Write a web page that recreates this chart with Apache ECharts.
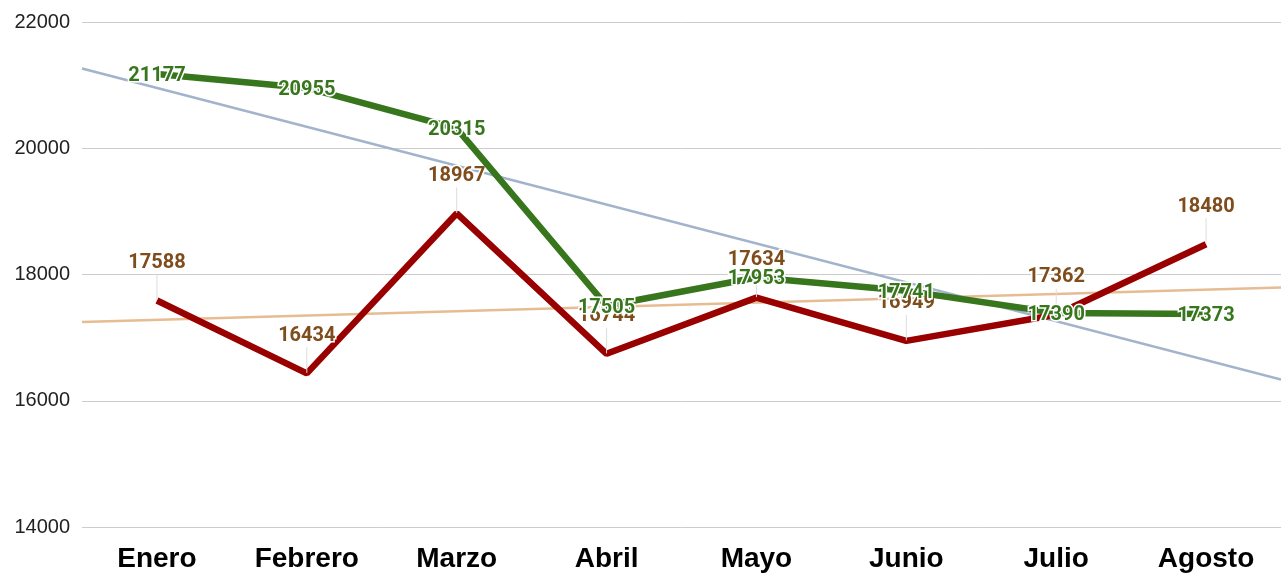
<!DOCTYPE html>
<html>
<head>
<meta charset="utf-8">
<title>Enero - Agosto</title>
<script src="https://cdn.jsdelivr.net/npm/echarts@6/dist/echarts.min.js"></script>
<style>
  html, body { margin: 0; padding: 0; background: #fff; }
  #chart { width: 1281px; height: 573px; }
</style>
</head>
<body>
<div id="chart"></div>
<script>
// chart data
const months = ['Enero', 'Febrero', 'Marzo', 'Abril', 'Mayo', 'Junio', 'Julio', 'Agosto'];
const redValues = [17588, 16434, 18967, 16744, 17634, 16949, 17362, 18480];
const greenValues = [21177, 20955, 20315, 17505, 17953, 17741, 17390, 17373];
const yTicks = [14000, 16000, 18000, 20000, 22000];

// least squares trend line over category index, spanning the full band
function trendLine(values) {
  const n = values.length;
  const mx = (n - 1) / 2;
  const my = values.reduce((a, b) => a + b, 0) / n;
  let sxy = 0, sxx = 0;
  values.forEach((v, i) => {
    sxy += (i - mx) * (v - my);
    sxx += (i - mx) * (i - mx);
  });
  const slope = sxy / sxx;
  const x0 = -0.5, x1 = n - 0.5;
  return [[x0, my + slope * (x0 - mx)], [x1, my + slope * (x1 - mx)]];
}

const chart = echarts.init(document.getElementById('chart'));
const option = {
  animation: false,
  backgroundColor: '#fff',
  textStyle: { fontFamily: 'Roboto' },
  grid: { left: 82, right: -8, top: 22, bottom: 45 },
  xAxis: [
    {
      type: 'category',
      data: months,
      boundaryGap: true,
      axisLine: { show: false },
      axisTick: { show: false },
      axisLabel: {
        color: '#000', fontSize: 28, fontWeight: 'bold', fontFamily: 'Liberation Sans',
        margin: 18, interval: 0
      }
    },
    {
      type: 'value',
      min: -0.5,
      max: months.length - 0.5,
      show: false
    }
  ],
  yAxis: {
    type: 'value',
    min: yTicks[0],
    max: yTicks[yTicks.length - 1],
    interval: 2000,
    axisLine: { show: false },
    axisTick: { show: false },
    axisLabel: {
      color: '#222', fontSize: 20, fontFamily: 'Liberation Sans', margin: 12,
      formatter: function(v) { return String(v); }
    },
    splitLine: { lineStyle: { color: '#cccccc', width: 1 } }
  },
  series: [
    {
      name: 'Tendencia rojo',
      type: 'line',
      xAxisIndex: 1,
      data: trendLine(redValues),
      symbol: 'none',
      silent: true,
      lineStyle: { color: '#e6bc93', width: 2.5 },
      z: 1
    },
    {
      name: 'Tendencia verde',
      type: 'line',
      xAxisIndex: 1,
      data: trendLine(greenValues),
      symbol: 'none',
      silent: true,
      lineStyle: { color: '#a2b4cb', width: 2.5 },
      z: 1
    },
    {
      name: 'Rojo',
      type: 'line',
      data: redValues,
      symbol: 'circle',
      symbolSize: 1,
      showSymbol: true,
      itemStyle: { color: 'transparent' },
      lineStyle: { color: '#990000', width: 6.5 },
      label: {
        show: true,
        position: 'top',
        distance: 5,
        color: '#7f4c1c',
        fontSize: 20,
        fontWeight: 'bold',
        textBorderColor: '#fff',
        textBorderWidth: 3
      },
      labelLayout: { dy: -22 },
      labelLine: { show: true, lineStyle: { color: '#dddddd', width: 1 } },
      z: 3
    },
    {
      name: 'Verde',
      type: 'line',
      data: greenValues,
      symbol: 'circle',
      symbolSize: 1,
      showSymbol: true,
      itemStyle: { color: 'transparent' },
      lineStyle: { color: '#38761d', width: 6.5 },
      label: {
        show: true,
        position: 'inside',
        offset: [0, 2],
        color: '#38761d',
        fontSize: 20,
        fontWeight: 'bold',
        textBorderColor: '#fff',
        textBorderWidth: 3
      },
      z: 4
    }
  ]
};
chart.setOption(option);
window.addEventListener('resize', function() {
  chart.resize();
});
</script>
</body>
</html>
